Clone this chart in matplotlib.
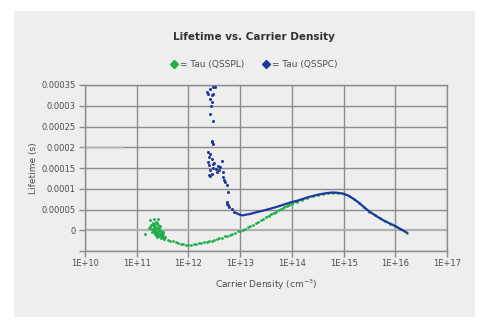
import matplotlib
matplotlib.use("Agg")
import matplotlib.pyplot as plt
import matplotlib.patches as mpatches
from matplotlib.lines import Line2D

plt.rcParams["font.family"] = ["DejaVu Sans"]
plt.rcParams["mathtext.default"] = "regular"

GREEN = "#1fae4b"
BLUE = "#1f3a9c"
GRID = "#8c8c8c"
PANEL = "#eeeeee"
TEXT = "#4d4d4d"

# QSSPL: noisy low-injection cluster (log10 density, lifetime in s)
pl_cloud_logx = [11.16, 11.26, 11.34, 11.41, 11.39, 11.26, 11.32, 11.35, 11.42, 11.45,
                 11.29, 11.39, 11.45, 11.48, 11.51, 11.55, 11.30, 11.36, 11.40, 11.43,
                 11.33, 11.38, 11.41, 11.46, 11.34, 11.37, 11.41, 11.44, 11.49, 11.31,
                 11.23, 11.40, 11.36, 11.38, 11.42, 11.35, 11.33, 11.44, 11.47, 11.39,
                 11.37, 11.43, 11.50, 11.46, 11.52, 11.28, 11.36, 11.41, 11.48, 11.53]
pl_cloud_y = [-1.0e-5, 2.4e-5, 2.6e-5, 2.8e-5, 1.85e-5, 0.8e-5, 1.2e-5, 0.0, 0.4e-5, 1.0e-5,
              -0.4e-5, -0.8e-5, -0.8e-5, -1.6e-5, -0.4e-5, -1.6e-5, 0.4e-5, 1.5e-5, 0.6e-5, -0.3e-5,
              -0.2e-5, -0.4e-5, 1.3e-5, -1.1e-5, 0.9e-5, -1.2e-5, 0.2e-5, -1.3e-5, -0.9e-5, 1.8e-5,
              0.5e-5, -1.6e-5, 0.7e-5, -0.7e-5, -0.5e-5, -0.6e-5, 0.3e-5, -0.2e-5, -1.9e-5, -1.0e-5,
              2.0e-5, 0.5e-5, -1.2e-5, -0.1e-5, -2.0e-5, 1.3e-5, -1.0e-5, -1.4e-5, -0.6e-5, -1.9e-5]

# QSSPL: smooth branch
pl_logx = [11.60, 11.65, 11.70, 11.75, 11.80, 11.85, 11.90, 11.95, 12.00, 12.05,
           12.10, 12.15, 12.20, 12.25, 12.30, 12.35, 12.40, 12.45, 12.50, 12.55,
           12.60, 12.65, 12.70, 12.75, 12.80, 12.85, 12.90, 12.95, 13.00, 13.05,
           13.10, 13.15, 13.20, 13.25, 13.30, 13.35, 13.40, 13.45, 13.50, 13.55,
           13.60, 13.65, 13.70, 13.75, 13.80, 13.85, 13.90, 13.95, 14.00, 14.10,
           14.20, 14.30, 14.40, 14.50, 14.60, 14.70, 14.80, 14.90, 15.00, 15.10,
           15.20, 15.30, 15.40, 15.50, 15.60, 15.70, 15.80, 15.90, 16.00, 16.10, 16.22]
pl_y = [-2.3e-5, -2.5e-5, -2.7e-5, -2.9e-5, -3.1e-5, -3.3e-5, -3.4e-5, -3.45e-5, -3.5e-5, -3.45e-5,
        -3.4e-5, -3.3e-5, -3.15e-5, -3.05e-5, -2.95e-5, -2.85e-5, -2.7e-5, -2.55e-5, -2.35e-5, -2.15e-5,
        -1.95e-5, -1.75e-5, -1.5e-5, -1.3e-5, -1.05e-5, -8.0e-6, -5.5e-6, -3.0e-6, -1.0e-6, 1.5e-6,
        4.0e-6, 7.0e-6, 1.0e-5, 1.35e-5, 1.7e-5, 2.05e-5, 2.4e-5, 2.75e-5, 3.1e-5, 3.45e-5,
        3.8e-5, 4.15e-5, 4.5e-5, 4.85e-5, 5.2e-5, 5.5e-5, 5.8e-5, 6.1e-5, 6.4e-5, 6.9e-5,
        7.4e-5, 7.8e-5, 8.2e-5, 8.55e-5, 8.8e-5, 8.9e-5, 9.0e-5, 9.0e-5, 8.8e-5, 8.3e-5,
        7.5e-5, 6.6e-5, 5.5e-5, 4.5e-5, 3.7e-5, 2.9e-5, 2.2e-5, 1.6e-5, 1.0e-5, 3.0e-6, -5.5e-6]

# QSSPC: scattered low-injection points
pc_cloud_logx = [12.354, 12.418, 12.48, 12.51, 12.38, 12.45, 12.48, 12.42, 12.45, 12.44,
                 12.42, 12.48, 12.45, 12.48, 12.46, 12.37, 12.42, 12.40, 12.45, 12.385,
                 12.48, 12.57, 12.64, 12.61, 12.53, 12.42, 12.45, 12.42, 12.55, 12.66,
                 12.675, 12.71, 12.74, 12.76, 12.74, 12.77, 12.84, 12.89, 12.40, 12.47,
                 12.39, 12.50, 12.60, 12.68, 12.75, 12.79]
pc_cloud_y = [3.32e-4, 3.41e-4, 3.46e-4, 3.44e-4, 3.29e-4, 3.25e-4, 3.29e-4, 3.17e-4, 3.08e-4, 3.00e-4,
              2.81e-4, 2.63e-4, 2.16e-4, 2.09e-4, 2.12e-4, 1.88e-4, 1.84e-4, 1.76e-4, 1.72e-4, 1.64e-4,
              1.60e-4, 1.56e-4, 1.68e-4, 1.52e-4, 1.48e-4, 1.44e-4, 1.36e-4, 1.30e-4, 1.40e-4, 1.40e-4,
              1.28e-4, 1.16e-4, 1.08e-4, 0.92e-4, 0.68e-4, 0.60e-4, 0.52e-4, 0.44e-4, 1.58e-4, 1.50e-4,
              1.33e-4, 1.62e-4, 1.45e-4, 1.22e-4, 0.64e-4, 0.56e-4]

# QSSPC: smooth branch
pc_logx = [12.93, 12.97, 13.02, 13.06, 13.11, 13.16, 13.20, 13.30, 13.40, 13.50,
           13.60, 13.70, 13.80, 13.90, 14.00, 14.10, 14.20, 14.30, 14.40, 14.50,
           14.60, 14.70, 14.80, 14.90, 15.00, 15.10, 15.20, 15.30, 15.40, 15.50,
           15.60, 15.70, 15.80, 15.90, 16.00, 16.10, 16.22]
pc_y = [4.1e-5, 3.85e-5, 3.65e-5, 3.6e-5, 3.75e-5, 3.85e-5, 3.95e-5, 4.3e-5, 4.6e-5, 4.9e-5,
        5.25e-5, 5.6e-5, 6.0e-5, 6.4e-5, 6.8e-5, 7.1e-5, 7.5e-5, 7.9e-5, 8.25e-5, 8.55e-5,
        8.8e-5, 9.0e-5, 9.1e-5, 9.0e-5, 8.8e-5, 8.3e-5, 7.5e-5, 6.6e-5, 5.5e-5, 4.5e-5,
        3.7e-5, 2.9e-5, 2.2e-5, 1.6e-5, 1.0e-5, 3.0e-6, -5.5e-6]

x_ticks = [1e10, 1e11, 1e12, 1e13, 1e14, 1e15, 1e16, 1e17]
x_labels = ["1E+10", "1E+11", "1E+12", "1E+13", "1E+14", "1E+15", "1E+16", "1E+17"]
y_ticks = [-0.00005, 0, 0.00005, 0.0001, 0.00015, 0.0002, 0.00025, 0.0003, 0.00035]
y_labels = ["", "0", "0.00005", "0.0001", "0.00015", "0.0002", "0.00025", "0.0003", "0.00035"]


def unlog(vals):
    return [10 ** v for v in vals]


fig = plt.figure(figsize=(4.92, 3.33), dpi=100)
fig.patch.set_facecolor("white")
fig.patches.append(mpatches.Rectangle((14 / 492, 1 - 317 / 333), 461 / 492, 306 / 333,
                                      transform=fig.transFigure, facecolor=PANEL,
                                      edgecolor="none", zorder=-10))

ax = fig.add_axes([85 / 492, 1 - 251 / 333, 362 / 492, 166 / 333])
ax.set_facecolor("none")
ax.set_xscale("log")
ax.set_xlim(1e10, 1e17)
ax.set_ylim(-0.00005, 0.00035)

pl_x = unlog(pl_logx)
pc_x = unlog(pc_logx)
ax.plot(unlog(pl_cloud_logx), pl_cloud_y, "o", color=GREEN, ms=2.1, mew=0, zorder=3)
ax.plot(pl_x, pl_y, "o", color=GREEN, ms=2.0, mew=0, zorder=3)
ax.plot(pl_x[38:], pl_y[38:], "-", color=GREEN, lw=1.0, alpha=0.8, zorder=3)
ax.plot(unlog(pc_cloud_logx), pc_cloud_y, "o", color=BLUE, ms=2.2, mew=0, zorder=4)
ax.plot(pc_x, pc_y, "-", color=BLUE, lw=1.6, zorder=4)

ax.set_xticks(x_ticks)
ax.set_xticklabels(x_labels)
ax.minorticks_off()
ax.set_yticks(y_ticks)
ax.set_yticklabels(y_labels)
ax.tick_params(axis="both", colors=GRID, labelcolor=TEXT, labelsize=6, length=4, width=1)
ax.tick_params(axis="x", pad=2)
ax.tick_params(axis="y", pad=3)
ax.grid(True, color=GRID, linewidth=1.0)
ax.set_axisbelow(True)
for spine in ax.spines.values():
    spine.set_color(GRID)
    spine.set_linewidth(1.0)
# lighter zero line
ax.get_ygridlines()[1].set_color("#b0b0b0")
ax.get_ygridlines()[1].set_linewidth(1.6)
ax.plot([8.8e9, 5.4e10], [0.0002, 0.0002], color="#b4b4b4", lw=1.0, clip_on=False, zorder=1)

ax.set_ylabel("Lifetime (s)", fontsize=6.5, color=TEXT, labelpad=2)
ax.set_xlabel("Carrier Density (cm$^{-3}$)", fontsize=6.5, color=TEXT, labelpad=7)

fig.text(0.516, 1 - 37 / 333, "Lifetime vs. Carrier Density", ha="center", va="center",
         fontsize=7.5, fontweight="bold", color="#333333")

handles = [Line2D([], [], marker="D", color=GREEN, ls="none", ms=4),
           Line2D([], [], marker="D", color=BLUE, ls="none", ms=4)]
fig.legend(handles, ["= Tau (QSSPL)", "= Tau (QSSPC)"], loc="center",
           bbox_to_anchor=(0.516, 1 - 65 / 333), ncol=2, frameon=False, fontsize=6.5,
           labelcolor=TEXT, handlelength=0.8, handletextpad=0.3, columnspacing=2.0)

fig.savefig("out.png", dpi=100)
